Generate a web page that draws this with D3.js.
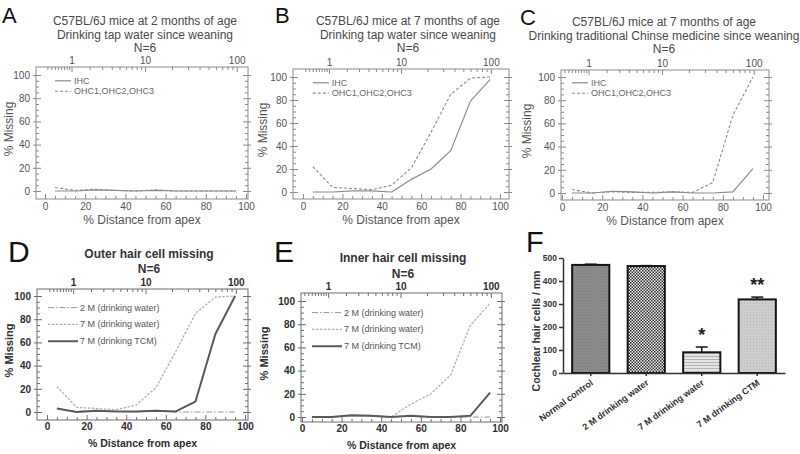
<!DOCTYPE html>
<html><head><meta charset="utf-8">
<script src="https://cdn.jsdelivr.net/npm/d3@7"></script>
<style>body{margin:0;background:#fff}</style>
</head><body><svg id="c" width="800" height="454" xmlns="http://www.w3.org/2000/svg"></svg>
<script>
// ---------- data ----------
const distance = [5, 15, 25, 35, 45, 55, 65, 75, 85, 95];
const ihc2mWater = [0, 0, 1, 0.5, 0, 0.5, 0, 0, 0, 0];
const ohc2mWater = [3, 0.5, 1.5, 0.5, 0, 1, 0, 0, 0, 0];
const ihc7mWater = [0, 0, 1, 1, 0, 11, 20, 36, 79, 98];
const ohc7mWater = [22, 4, 3, 2, 6, 21, 52, 85, 99, 100];
const ihc7mTCM = [0, 0, 1.5, 1, 0, 1, 0, 0, 1, 21];
const ohc7mTCM = [3, 0, 1, 0.5, 0.5, 1, 0.5, 9, 67, 100];
const freqMajor = [1, 10, 100];
const freqMinor = [0.2, 0.3, 0.4, 0.5, 0.6, 0.7, 0.8, 0.9, 2, 3, 4, 5, 6, 7, 8, 9, 20, 30, 40, 50, 60, 70, 80, 90];
const pctTicks = [0, 20, 40, 60, 80, 100];
const pctMinorTicks = [5, 10, 15, 25, 30, 35, 45, 50, 55, 65, 70, 75, 85, 90, 95];
const missingTicks = [0, 20, 40, 60, 80, 100];
const missingMinorTicks = [5, 10, 15, 25, 30, 35, 45, 50, 55, 65, 70, 75, 85, 90, 95];
const barCategories = ["Normal control", "2 M drinking water", "7 M drinking water", "7 M drinking CTM"];
const barValues = [470, 465, 90, 320];
const barErrors = [3, 2, 23, 10];
const barStars = ["", "", "*", "**"];
const barTicks = [0, 100, 200, 300, 400, 500];

// cochlear frequency map (kHz -> % distance from apex)
const pctOf = f => 1.2 + 47 * Math.log10(f + 0.8);

const svg = d3.select("#c");
const defs = svg.append("defs");
// patterns
const pChk = defs.append("pattern").attr("id", "chk").attr("width", 3).attr("height", 3).attr("patternUnits", "userSpaceOnUse");
pChk.append("rect").attr("width", 3).attr("height", 3).attr("fill", "#f2f2f2");
pChk.append("rect").attr("width", 1.5).attr("height", 1.5).attr("fill", "#2a2a2a");
pChk.append("rect").attr("x", 1.5).attr("y", 1.5).attr("width", 1.5).attr("height", 1.5).attr("fill", "#2a2a2a");
const pHz = defs.append("pattern").attr("id", "hz").attr("width", 4).attr("height", 3).attr("patternUnits", "userSpaceOnUse");
pHz.append("rect").attr("width", 4).attr("height", 3).attr("fill", "#e4e4e4");
pHz.append("rect").attr("y", 2).attr("width", 4).attr("height", 1).attr("fill", "#b4b4b4");
const pDot = defs.append("pattern").attr("id", "dot").attr("width", 3).attr("height", 3).attr("patternUnits", "userSpaceOnUse");
pDot.append("rect").attr("width", 3).attr("height", 3).attr("fill", "#cdcdcd");
pDot.append("rect").attr("width", 1).attr("height", 1).attr("fill", "#b8b8b8");
const pGr = defs.append("pattern").attr("id", "gr").attr("width", 3).attr("height", 3).attr("patternUnits", "userSpaceOnUse");
pGr.append("rect").attr("width", 3).attr("height", 3).attr("fill", "#8a8a8a");
pGr.append("rect").attr("width", 1).attr("height", 1).attr("fill", "#7c7c7c");
const barFills = ["url(#gr)", "url(#chk)", "url(#hz)", "url(#dot)"];

const styles = {
  ihc: { stroke: "#8c8c8c", w: 1.2, dash: null },
  ohc: { stroke: "#8c8c8c", w: 1.1, dash: "3,2" },
  w2: { stroke: "#9a9a9a", w: 1, dash: "6,2,1.5,2" },
  w7: { stroke: "#b2b2b2", w: 1.3, dash: "2.5,1.5" },
  tcm: { stroke: "#5a5a5a", w: 2, dash: null }
};

const panels = [
  { letter: "A", lx: 2, ly: 23, lsize: 22, box: [36, 67, 248, 199], xr: [45, 246], yr: [191, 75], bold: false,
    titles: ["C57BL/6J mice at 2 months of age", "Drinking tap water since weaning", "N=6"], tx: 145, ty: [25, 38.5, 52],
    ylabX: 13, series: [[ihc2mWater, "ihc"], [ohc2mWater, "ohc"]], legend: [["IHC", "ihc"], ["OHC1,OHC2,OHC3", "ohc"]] },
  { letter: "B", lx: 275, ly: 23, lsize: 22, box: [293, 69, 509, 199], xr: [303, 500], yr: [192, 77], bold: false,
    titles: ["C57BL/6J mice at 7 months of age", "Drinking tap water since weaning", "N=6"], tx: 408, ty: [25, 38.5, 52],
    ylabX: 267, series: [[ihc7mWater, "ihc"], [ohc7mWater, "ohc"]], legend: [["IHC", "ihc"], ["OHC1,OHC2,OHC3", "ohc"]] },
  { letter: "C", lx: 520, ly: 25, lsize: 22, box: [561, 70, 769, 200], xr: [562, 763], yr: [193, 77], bold: false,
    titles: ["C57BL/6J mice at 7 months of age", "Drinking traditional Chinse medicine since weaning", "N=6"], tx: 664, ty: [26, 39.5, 53],
    ylabX: 531, series: [[ihc7mTCM, "ihc"], [ohc7mTCM, "ohc"]], legend: [["IHC", "ihc"], ["OHC1,OHC2,OHC3", "ohc"]] },
  { letter: "D", lx: 8, ly: 262, lsize: 30, box: [37, 289, 248, 420], xr: [47, 245], yr: [412, 296], bold: true,
    titles: ["Outer hair cell missing", "N=6"], tx: 149, ty: [258, 273],
    ylabX: 13, series: [[ohc2mWater, "w2"], [ohc7mWater, "w7"], [ohc7mTCM, "tcm"]],
    legend: [["2 M (drinking water)", "w2"], ["7 M (drinking water)", "w7"], ["7 M (drinking TCM)", "tcm"]] },
  { letter: "E", lx: 274, ly: 262, lsize: 30, box: [301, 293, 502, 422], xr: [302, 500], yr: [417, 301], bold: true,
    titles: ["Inner hair cell missing", "N=6"], tx: 403, ty: [262, 278],
    ylabX: 268, series: [[ihc2mWater, "w2"], [ihc7mWater, "w7"], [ihc7mTCM, "tcm"]],
    legend: [["2 M (drinking water)", "w2"], ["7 M (drinking water)", "w7"], ["7 M (drinking TCM)", "tcm"]] }
];

const FAM = "'Liberation Sans', Arial, sans-serif";

function styleAxis(g, col, fs, fw) {
  g.select(".domain").remove();
  g.selectAll("line").attr("stroke", col);
  g.attr("font-size", fs).attr("font-family", FAM).attr("font-weight", fw);
}

panels.forEach(p => {
  const g = svg.append("g");
  const x = d3.scaleLinear().domain([0, 100]).range(p.xr);
  const y = d3.scaleLinear().domain([0, 100]).range(p.yr);
  const [bx0, by0, bx1, by1] = p.box;
  const axisCol = p.bold ? "#6e6e6e" : "#8c8c8c";
  const textCol = p.bold ? "#2e2e2e" : "#555";
  const fw = p.bold ? "bold" : "normal";
  const tfs = 10;

  // letter
  svg.append("text").attr("x", p.lx).attr("y", p.ly).text(p.letter)
    .attr("font-family", FAM).attr("font-size", p.lsize).attr("fill", "#111");

  // titles
  p.titles.forEach((t, i) => {
    g.append("text").attr("x", p.tx).attr("y", p.ty[i]).attr("text-anchor", "middle").text(t)
      .attr("font-family", FAM).attr("font-weight", fw).attr("fill", p.bold ? "#333" : "#4a4a4a")
      .attr("font-size", 12);
  });

  // box
  g.append("rect").attr("x", bx0).attr("y", by0).attr("width", bx1 - bx0).attr("height", by1 - by0)
    .attr("fill", "none").attr("stroke", axisCol).attr("stroke-width", 1);

  // bottom axis (inward ticks)
  const gb = g.append("g").attr("transform", `translate(0,${by1})`)
    .call(d3.axisBottom(x).tickValues(pctTicks).tickSize(-5).tickPadding(p.bold ? 3 : 4));
  gb.call(a => styleAxis(a, axisCol, tfs, fw));
  gb.selectAll("text").attr("fill", textCol);
  const gbm = g.append("g").attr("transform", `translate(0,${by1})`)
    .call(d3.axisBottom(x).tickValues(pctMinorTicks).tickSize(-3).tickFormat(""));
  gbm.call(a => styleAxis(a, axisCol, tfs, fw));

  // top frequency axis (inward ticks)
  const gt = g.append("g").attr("transform", `translate(0,${by0})`)
    .call(d3.axisTop(x).tickValues(freqMajor.map(pctOf)).tickSize(-5).tickPadding(3)
      .tickFormat((d, i) => freqMajor[i]));
  gt.call(a => styleAxis(a, axisCol, tfs, fw));
  gt.selectAll("text").attr("fill", textCol);
  const gtm = g.append("g").attr("transform", `translate(0,${by0})`)
    .call(d3.axisTop(x).tickValues(freqMinor.map(pctOf)).tickSize(-3).tickFormat(""));
  gtm.call(a => styleAxis(a, axisCol, tfs, fw));

  // left axis
  const gl = g.append("g").attr("transform", `translate(${bx0},0)`)
    .call(d3.axisLeft(y).tickValues(missingTicks).tickSize(-5).tickPadding(6));
  gl.call(a => styleAxis(a, axisCol, tfs, fw));
  gl.selectAll("text").attr("fill", textCol);
  const glo = g.append("g").attr("transform", `translate(${bx0},0)`)
    .call(d3.axisLeft(y).tickValues(missingTicks).tickSize(3).tickFormat(""));
  glo.call(a => styleAxis(a, axisCol, tfs, fw));
  const glm = g.append("g").attr("transform", `translate(${bx0},0)`)
    .call(d3.axisLeft(y).tickValues(missingMinorTicks).tickSize(-3).tickFormat(""));
  glm.call(a => styleAxis(a, axisCol, tfs, fw));
  // right axis
  const gr = g.append("g").attr("transform", `translate(${bx1},0)`)
    .call(d3.axisRight(y).tickValues(missingTicks).tickSize(-5).tickFormat(""));
  gr.call(a => styleAxis(a, axisCol, tfs, fw));
  const gro = g.append("g").attr("transform", `translate(${bx1},0)`)
    .call(d3.axisRight(y).tickValues(missingTicks).tickSize(3).tickFormat(""));
  gro.call(a => styleAxis(a, axisCol, tfs, fw));
  const grm = g.append("g").attr("transform", `translate(${bx1},0)`)
    .call(d3.axisRight(y).tickValues(missingMinorTicks).tickSize(-3).tickFormat(""));
  grm.call(a => styleAxis(a, axisCol, tfs, fw));

  // axis titles
  g.append("text").attr("x", (bx0 + bx1) / 2).attr("y", by1 + (p.bold ? 27 : 25)).attr("text-anchor", "middle")
    .text("% Distance from apex").attr("font-family", FAM).attr("font-weight", fw)
    .attr("font-size", p.bold ? 10.5 : 12).attr("fill", textCol);
  g.append("text").attr("transform", `translate(${p.ylabX},${(by0 + by1) / 2 - 4}) rotate(-90)`)
    .attr("text-anchor", "middle").text("% Missing").attr("font-family", FAM).attr("font-weight", fw)
    .attr("font-size", p.bold ? 11 : 12).attr("fill", textCol);

  // series
  const line = d3.line().x((d, i) => x(distance[i])).y(d => y(d));
  p.series.forEach(([vals, key]) => {
    const s = styles[key];
    g.append("path").datum(vals).attr("d", line).attr("fill", "none")
      .attr("stroke", s.stroke).attr("stroke-width", s.w).attr("stroke-dasharray", s.dash)
      .attr("stroke-linejoin", "round");
  });

  // legend
  p.legend.forEach(([label, key], i) => {
    const s = styles[key];
    let lx0, lx1, txx, ly;
    if (p.bold) {
      lx0 = bx0 + 11; lx1 = lx0 + 30; txx = lx1 + 2;
      ly = y([90, 75.5, 61][i]);
    } else {
      lx0 = x(5); lx1 = lx0 + 16; txx = lx0 + 19;
      ly = y([95, 86][i]);
    }
    g.append("line").attr("x1", lx0).attr("x2", lx1).attr("y1", ly).attr("y2", ly)
      .attr("stroke", s.stroke).attr("stroke-width", s.w).attr("stroke-dasharray", s.dash);
    g.append("text").attr("x", txx).attr("y", ly + 3).text(label)
      .attr("font-family", FAM)
      .attr("font-size", 9).attr("fill", p.bold ? "#555" : "#666");
  });
});

// ---------- panel F: bar chart ----------
{
  const g = svg.append("g");
  svg.append("text").attr("x", 526).attr("y", 252).text("F")
    .attr("font-family", FAM).attr("font-size", 29).attr("fill", "#111");
  const xb = d3.scaleBand().domain(barCategories).range([563, 785]).paddingInner(0.33).paddingOuter(0.165);
  const yb = d3.scaleLinear().domain([0, 500]).range([373, 258]);

  // bars
  g.selectAll("rect.bar").data(barCategories).join("rect").attr("class", "bar")
    .attr("x", d => xb(d)).attr("width", xb.bandwidth())
    .attr("y", (d, i) => yb(barValues[i])).attr("height", (d, i) => yb(0) - yb(barValues[i]))
    .attr("fill", (d, i) => barFills[i]).attr("stroke", "#151515").attr("stroke-width", 2);

  // error bars
  barCategories.forEach((c, i) => {
    const cx = xb(c) + xb.bandwidth() / 2;
    const top = yb(barValues[i] + barErrors[i]);
    g.append("line").attr("x1", cx).attr("x2", cx).attr("y1", yb(barValues[i])).attr("y2", top)
      .attr("stroke", "#151515").attr("stroke-width", 1.5);
    g.append("line").attr("x1", cx - 6).attr("x2", cx + 6).attr("y1", top).attr("y2", top)
      .attr("stroke", "#151515").attr("stroke-width", 1.5);
    if (barStars[i]) {
      g.append("text").attr("x", cx).attr("y", top - 6).attr("text-anchor", "middle").text(barStars[i])
        .attr("font-family", FAM).attr("font-weight", "bold").attr("font-size", 18).attr("fill", "#222");
    }
  });

  // axes
  const ga = g.append("g").attr("transform", "translate(563,0)")
    .call(d3.axisLeft(yb).tickValues(barTicks).tickSize(4).tickSizeOuter(0).tickPadding(2));
  ga.attr("font-family", FAM).attr("font-size", 8.5).attr("font-weight", "bold");
  ga.selectAll("line,path").attr("stroke", "#333").attr("stroke-width", 1.5);
  ga.selectAll("text").attr("fill", "#333");
  const gx = g.append("g").attr("transform", "translate(0,373)")
    .call(d3.axisBottom(xb).tickSize(3).tickSizeOuter(0).tickFormat(""));
  gx.selectAll("line,path").attr("stroke", "#333").attr("stroke-width", 1.5);

  // category labels
  barCategories.forEach(c => {
    const cx = xb(c) + xb.bandwidth() / 2;
    g.append("text").attr("transform", `translate(${cx + 3},${384}) rotate(-36)`)
      .attr("text-anchor", "end").text(c)
      .attr("font-family", FAM).attr("font-weight", "bold").attr("font-size", 9).attr("fill", "#333");
  });

  // y title
  g.append("text").attr("transform", "translate(540,331) rotate(-90)").attr("text-anchor", "middle")
    .text("Cochlear hair cells / mm").attr("font-family", FAM).attr("font-weight", "bold")
    .attr("font-size", 10.5).attr("fill", "#333");
}
</script>
</body></html>
